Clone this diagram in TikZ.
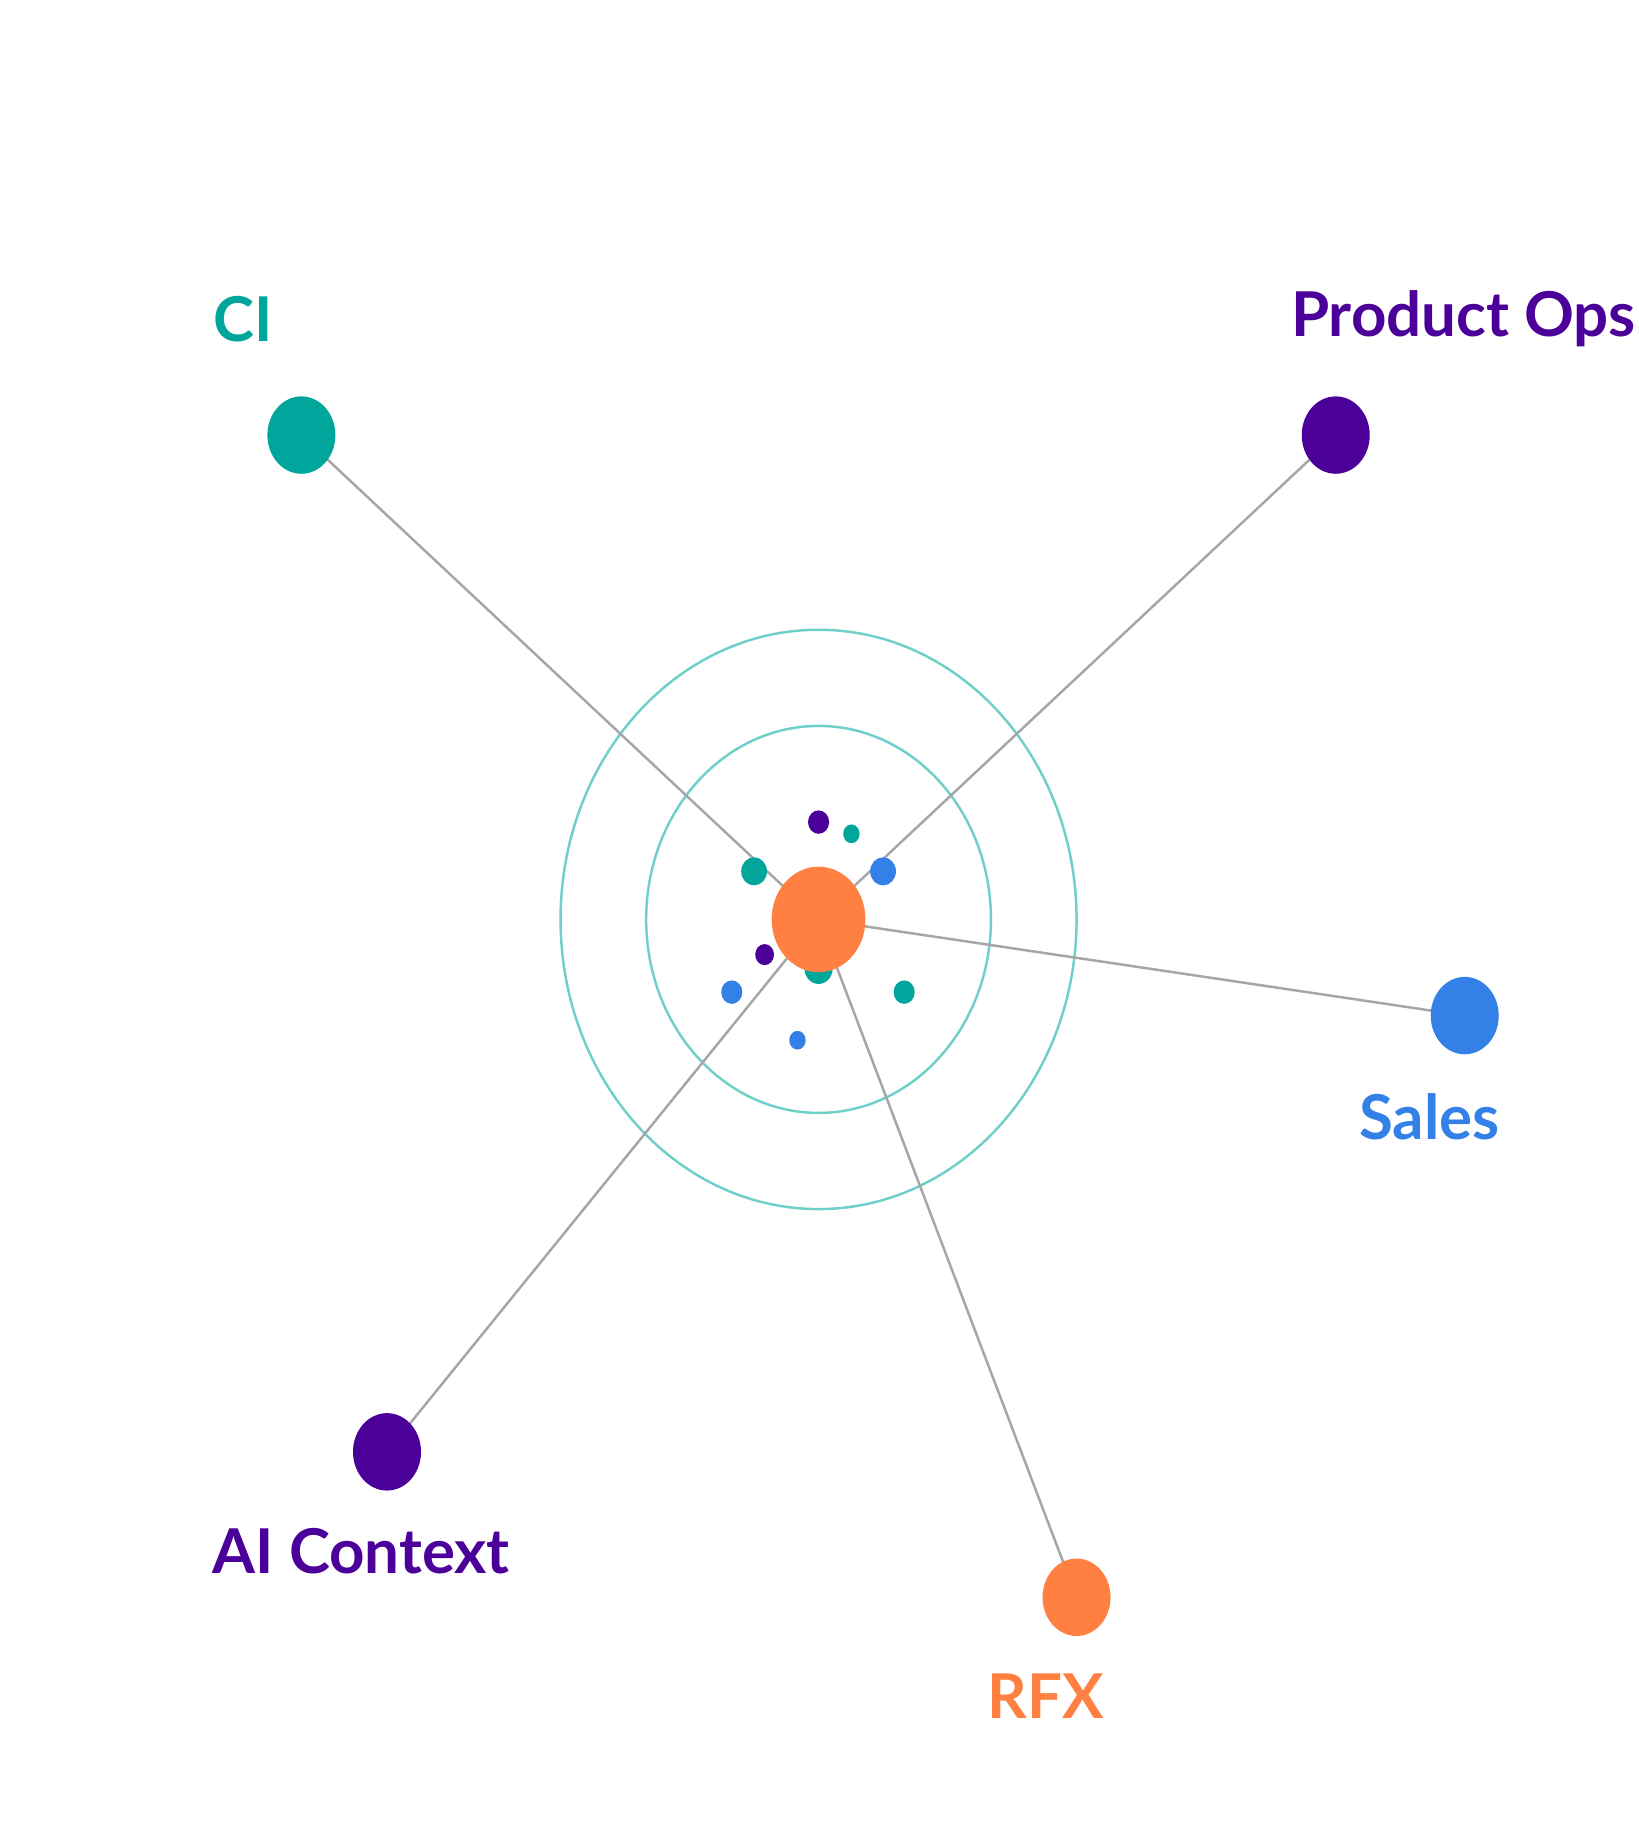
\documentclass[tikz,border=0pt]{standalone}
\usepackage{fontspec}
\setmainfont{Lato}
\definecolor{teal1}{HTML}{00A69C}
\definecolor{purple1}{HTML}{4A0099}
\definecolor{blue1}{HTML}{3380E6}
\definecolor{orange1}{HTML}{FF8040}
\definecolor{ring}{HTML}{70CFC8}
\begin{document}
\begin{tikzpicture}
		[x=0.02cm,y=-0.02cm,
		 link/.style={draw=gray!70,line width=1.2pt},
		 lbl/.style={font=\fontsize{30}{34}\selectfont\bfseries}]
		\useasboundingbox (0,0) rectangle (1397,1569);
		% the two rings round the centre
		\draw [ring,line width=1.2pt] (698,784) ellipse [x radius=147,y radius=165];
		\draw [ring,line width=1.2pt] (698,784) ellipse [x radius=220,y radius=247];

		% the node positions
		\coordinate (c) at (698,784);
		\coordinate (ci) at (257,371);
		\coordinate (ops) at (1139,371);
		\coordinate (sales) at (1249,866);
		\coordinate (ai) at (330,1238);
		\coordinate (rfx) at (918,1362);

		%draw the links
		\foreach \n in {ci,ops,sales,ai,rfx}
			\draw [link] (\n) -- (c);

		% the outer nodes
		\fill[teal1] (ci) ellipse [x radius=29,y radius=33];
		\fill[purple1] (ops) ellipse [x radius=29,y radius=33];
		\fill[blue1] (sales) ellipse [x radius=29,y radius=33];
		\fill[purple1] (ai) ellipse [x radius=29,y radius=33];
		\fill[orange1] (rfx) ellipse [x radius=29,y radius=33];

		% small dots round the centre
		\fill[purple1] (698,701) ellipse [x radius=9,y radius=10];
		\fill[teal1] (726,711) ellipse [x radius=7,y radius=8];
		\fill[teal1] (643,743) ellipse [x radius=11,y radius=12];
		\fill[blue1] (753,743) ellipse [x radius=11,y radius=12];
		\fill[purple1] (652,814) ellipse [x radius=8,y radius=9];
		\fill[blue1] (624,846) ellipse [x radius=9,y radius=10];
		\fill[teal1] (698,826) ellipse [x radius=12,y radius=13];
		\fill[teal1] (771,846) ellipse [x radius=9,y radius=10];
		\fill[blue1] (680,887) ellipse [x radius=7,y radius=8];
		\fill[orange1] (c) ellipse [x radius=40,y radius=45];

		% labels
		\node[lbl,teal1] (ciL) at (207,272) {CI};
		\node[lbl,purple1] (opsL) at (1248,272) {Product Ops};
		\node[lbl,blue1] (salesL) at (1219,952) {Sales};
		\node[lbl,purple1] (aiL) at (308,1323) {AI Context};
		\node[lbl,orange1] (rfxL) at (892,1446) {RFX};
	\end{tikzpicture}
\end{document}
